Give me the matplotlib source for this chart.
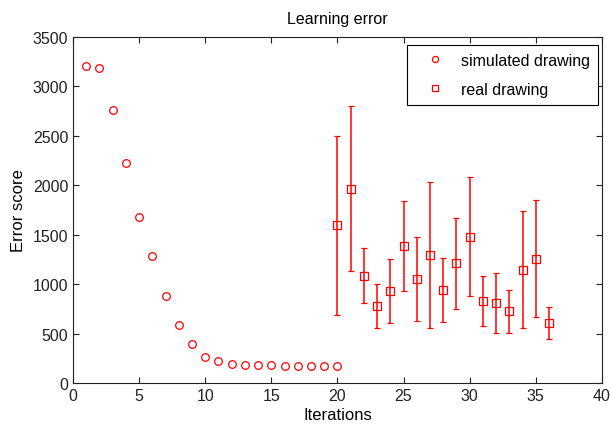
import matplotlib
matplotlib.use('Agg')
import matplotlib.pyplot as plt

plt.rcParams['font.family'] = ['Liberation Sans', 'DejaVu Sans']
plt.rcParams['font.size'] = 11.5

# simulated drawing
sim_x = list(range(1, 21))
sim_y = [3207, 3183, 2765, 2222, 1675, 1281, 876, 590, 391, 263,
         219, 195, 182, 182, 185, 168, 168, 168, 168, 168]

# real drawing (mean and error half-width)
real_x = list(range(20, 37))
real_y = [1594, 1965, 1085, 780, 930, 1385, 1055, 1300, 945, 1210,
          1478, 830, 810, 725, 1145, 1260, 610]
real_err = [904, 835, 277, 225, 327, 452, 424, 738, 324, 464,
            602, 254, 300, 219, 592, 592, 160]

fig = plt.figure(figsize=(6.11, 4.35), dpi=100)
ax = fig.add_axes([0.1195, 0.117, 0.8655, 0.7956])

h_sim, = ax.plot(sim_x, sim_y, 'o', mfc='none', mec='red', ms=5.5, mew=0.9)
eb = ax.errorbar(real_x, real_y, yerr=real_err, fmt='s', mfc='none', mec='red',
                 ecolor='red', ms=6, mew=0.9, elinewidth=1.1, capsize=2.5,
                 capthick=1.1)

ax.set_xlim(0, 40)
ax.set_ylim(0, 3500)
ax.set_xticks(range(0, 41, 5))
ax.set_yticks(range(0, 3501, 500))
ax.tick_params(direction='in', top=True, right=True, length=4, colors='#222222',
               labelsize=11.5)
for s in ax.spines.values():
    s.set_color('#222222')

ax.set_title('Learning error', fontsize=11.5, pad=10)
ax.set_xlabel('Iterations', fontsize=12, labelpad=3)
ax.set_ylabel('Error score', fontsize=12, labelpad=5)

leg = ax.legend([h_sim, eb[0]], ['simulated drawing', 'real drawing'],
                loc='upper right', fancybox=False, edgecolor='black',
                framealpha=1, handlelength=2.6, handletextpad=0.3,
                borderpad=0.5, labelspacing=0.9, fontsize=11.5,
                markerscale=0.8, borderaxespad=0,
                bbox_to_anchor=(0.9924, 0.978))
leg.get_frame().set_linewidth(0.8)

fig.savefig('out.png', dpi=100)
